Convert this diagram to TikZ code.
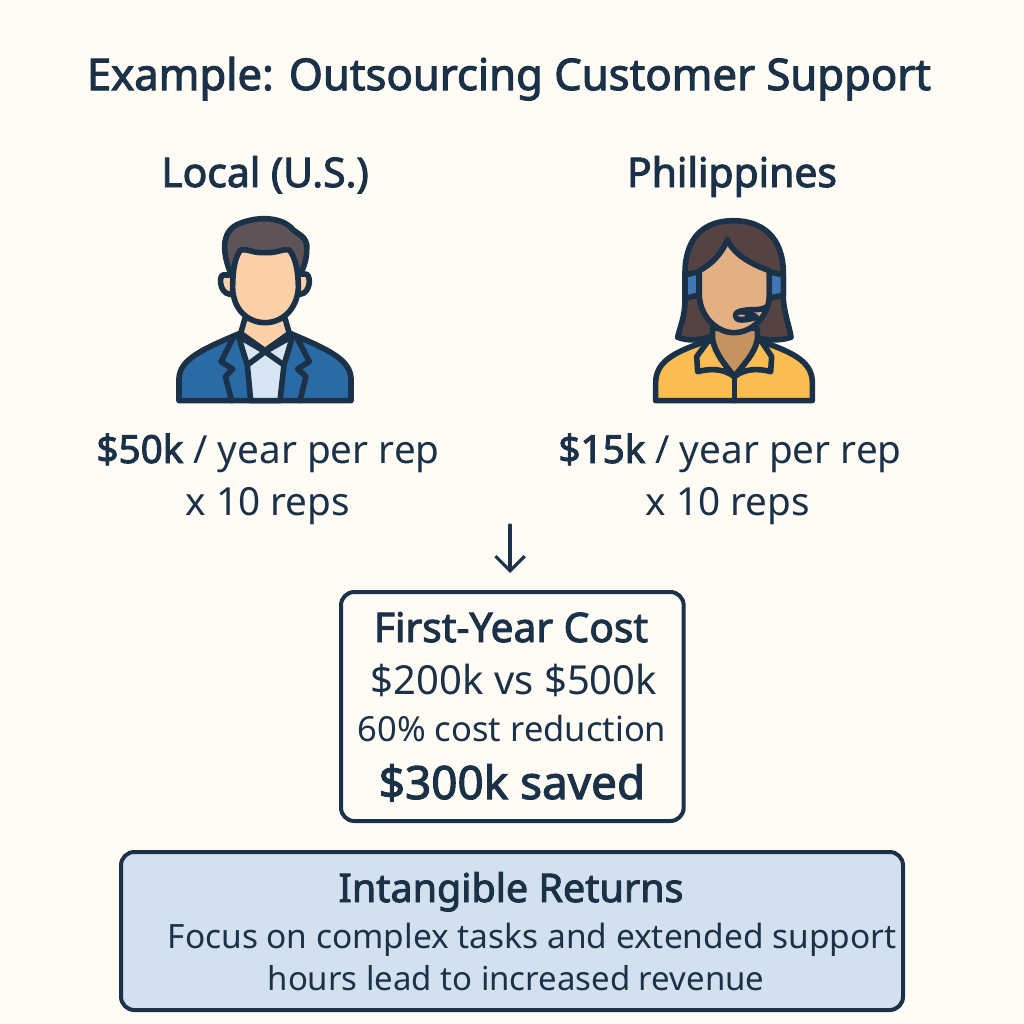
\documentclass[tikz,border=0pt]{standalone}
\usepackage{fontspec}
\usetikzlibrary{arrows.meta}
\setmainfont[BoldFont={Noto Sans},BoldFeatures={FakeBold=2.4}]{Noto Sans}
\definecolor{ink}{HTML}{1A3148}
\definecolor{bgc}{HTML}{FFFCF6}
\definecolor{boxblue}{HTML}{D3E1EE}
\definecolor{jacket}{HTML}{2A6AA5}
\definecolor{shirt}{HTML}{D8E6F3}
\definecolor{skinA}{HTML}{FDD0AA}
\definecolor{hairA}{HTML}{5E5356}
\definecolor{skinB}{HTML}{E3B083}
\definecolor{neckB}{HTML}{C4935F}
\definecolor{hairB}{HTML}{544342}
\definecolor{topB}{HTML}{FBBD51}
\definecolor{phone}{HTML}{4277B5}
\tikzset{
 px/.style={x=0.75pt,y=-0.75pt},
 lbl/.style={text=ink,inner sep=0pt,align=center,anchor=base},
 titlefont/.style={lbl,font=\fontsize{32.7}{36}\selectfont\bfseries},
 headfont/.style={lbl,font=\fontsize{30.6}{34}\selectfont\bfseries},
 bodyfont/.style={lbl,font=\fontsize{29}{39}\selectfont},
 box/.style={draw=ink,line width=3pt,rounded corners=10pt,inner sep=0pt,outer sep=0pt},
 ic/.style={draw=ink,line width=4.2pt,line join=round,line cap=round},
 icon/.style={x=0.25pt,y=-0.25pt}
}
\begin{document}
\begin{tikzpicture}[px]
\useasboundingbox (0,0) rectangle (1024,1024);
\fill[bgc] (0,0) rectangle (1024,1024);

\node[titlefont] (title) at (509,90) {Example: Outsourcing Customer Support};
\node[headfont] (local) at (265,187) {Local (U.S.)};
\node[headfont] (phil) at (732,187) {Philippines};

% man icon
\begin{scope}[shift={(150,200)},icon]
\path[ic,fill=skinA] (225,225) .. controls (205,215) and (205,280) .. (240,283) -- (450,283) .. controls (485,280) and (485,215) .. (462,222) -- cycle;
\path[ic,fill=jacket] (87,602) -- (87,535) .. controls (90,480) and (150,450) .. (270,400) -- (420,400) .. controls (540,450) and (600,480) .. (603,535) -- (603,602) -- cycle;
\path[ic,fill=shirt] (265,408) -- (292,495) -- (302,602) -- (390,602) -- (402,495) -- (428,408) -- (345,455) -- cycle;
\path[ic,fill=skinA] (285,355) -- (272,400) -- (345,452) -- (418,400) -- (405,355) -- cycle;
\path[ic,fill=hairA] (240,215) .. controls (215,150) and (215,90) .. (270,70) .. controls (320,50) and (385,50) .. (420,80) .. controls (440,105) and (475,105) .. (470,150) .. controls (470,175) and (465,190) .. (455,215) -- cycle;
\path[ic,fill=skinA] (345,158) .. controls (310,160) and (290,145) .. (272,150) .. controls (255,170) and (248,210) .. (248,265) .. controls (250,330) and (295,368) .. (345,368) .. controls (395,368) and (440,330) .. (445,265) .. controls (445,210) and (435,170) .. (418,150) .. controls (400,145) and (380,160) .. (345,158) -- cycle;
\path[ic] (292,495) -- (345,455) -- (402,495);
\path[ic] (250,412) -- (213,485) -- (248,507) -- (226,530) -- (245,602);
\path[ic] (440,412) -- (478,485) -- (443,507) -- (468,530) -- (450,602);
\end{scope}

% woman icon
\begin{scope}[shift={(630,200)},icon]
\path[ic,fill=hairB] (165,220) .. controls (165,110) and (225,62) .. (310,62) .. controls (395,62) and (460,110) .. (460,220) -- (460,300) .. controls (465,350) and (480,385) .. (483,412) .. controls (440,425) and (400,420) .. (370,410) -- (240,410) .. controls (210,420) and (180,425) .. (143,412) .. controls (150,380) and (165,350) .. (165,300) -- cycle;
\path[ic,fill=topB] (77,602) -- (77,545) .. controls (80,490) and (120,460) .. (225,425) -- (395,425) .. controls (500,460) and (545,490) .. (547,545) -- (547,602) -- cycle;
\path[ic,fill=neckB] (248,385) -- (248,420) .. controls (255,460) and (285,495) .. (313,530) .. controls (340,495) and (375,460) .. (382,420) -- (382,385) -- cycle;
\path[ic,fill=topB] (233,425) -- (200,470) -- (203,515) .. controls (240,505) and (280,505) .. (313,530) .. controls (345,505) and (385,505) .. (422,515) -- (425,470) -- (395,425) -- (382,420) .. controls (375,460) and (340,495) .. (313,530) .. controls (285,495) and (255,460) .. (248,420) -- cycle;
\path[ic,fill=skinB] (292,118) .. controls (275,165) and (240,195) .. (208,212) -- (208,290) .. controls (212,350) and (260,398) .. (312,398) .. controls (365,398) and (415,350) .. (418,290) -- (418,212) .. controls (370,195) and (310,165) .. (292,118) -- cycle;
\path[ic,fill=phone] (165,225) -- (207,215) -- (207,285) -- (165,295) -- cycle;
\path[ic,fill=phone] (418,215) -- (460,225) -- (460,285) -- (418,295) -- cycle;
\path[ic] (313,602) -- (313,530);
\path[ic] (412,320) .. controls (385,335) and (365,325) .. (340,332);
\path[ic,fill=ink] (340,332) .. controls (310,333) and (308,360) .. (335,360) .. controls (350,360) and (365,356) .. (380,352) .. controls (365,345) and (362,334) .. (340,332) -- cycle;
\fill[skinB] (335,347) ellipse [x radius=11,y radius=3];
\end{scope}

\node[bodyfont] (costl) at (268,463) {\textbf{\$50k} / year per rep};
\node[bodyfont] (repl) at (268,515) {x 10 reps};
\node[bodyfont] (costp) at (730,463) {\textbf{\$15k} / year per rep};
\node[bodyfont] (repp) at (728,515) {x 10 reps};

\node[box,minimum width=257pt,minimum height=171.75pt,anchor=north west] (cost) at (341,592) {};
\node[lbl,font=\fontsize{30.5}{34}\selectfont\bfseries] (c1) at (511,642) {First-Year Cost};
\node[lbl,font=\fontsize{30}{34}\selectfont] (c2) at (514,694) {\$200k vs \$500k};
\node[lbl,font=\fontsize{25.9}{30}\selectfont] (c3) at (512,741) {60\% cost reduction};
\node[lbl,font=\fontsize{34.4}{38}\selectfont\bfseries] (c4) at (512,799) {\$300k saved};

\coordinate (arrowtop) at (510,525);
\coordinate (tip) at (510,573);
\draw[ink,line width=2.3pt,line cap=round,line join=round,-{Straight Barb[length=11pt,width=22pt,line width=2.3pt]}] (arrowtop) -- (tip);

\node[box,fill=boxblue,minimum width=586.5pt,minimum height=118.5pt,anchor=north west] (ret) at (121,852) {};
\node[lbl,font=\fontsize{29.6}{34}\selectfont\bfseries] (r1) at (511,902) {Intangible Returns};
\node[lbl,font=\fontsize{25.1}{31}\selectfont] (r2) at (532,948) {Focus on complex tasks and extended support};
\node[lbl,font=\fontsize{24.7}{31}\selectfont] (r3) at (516,990) {hours lead to increased revenue};
\end{tikzpicture}
\end{document}
